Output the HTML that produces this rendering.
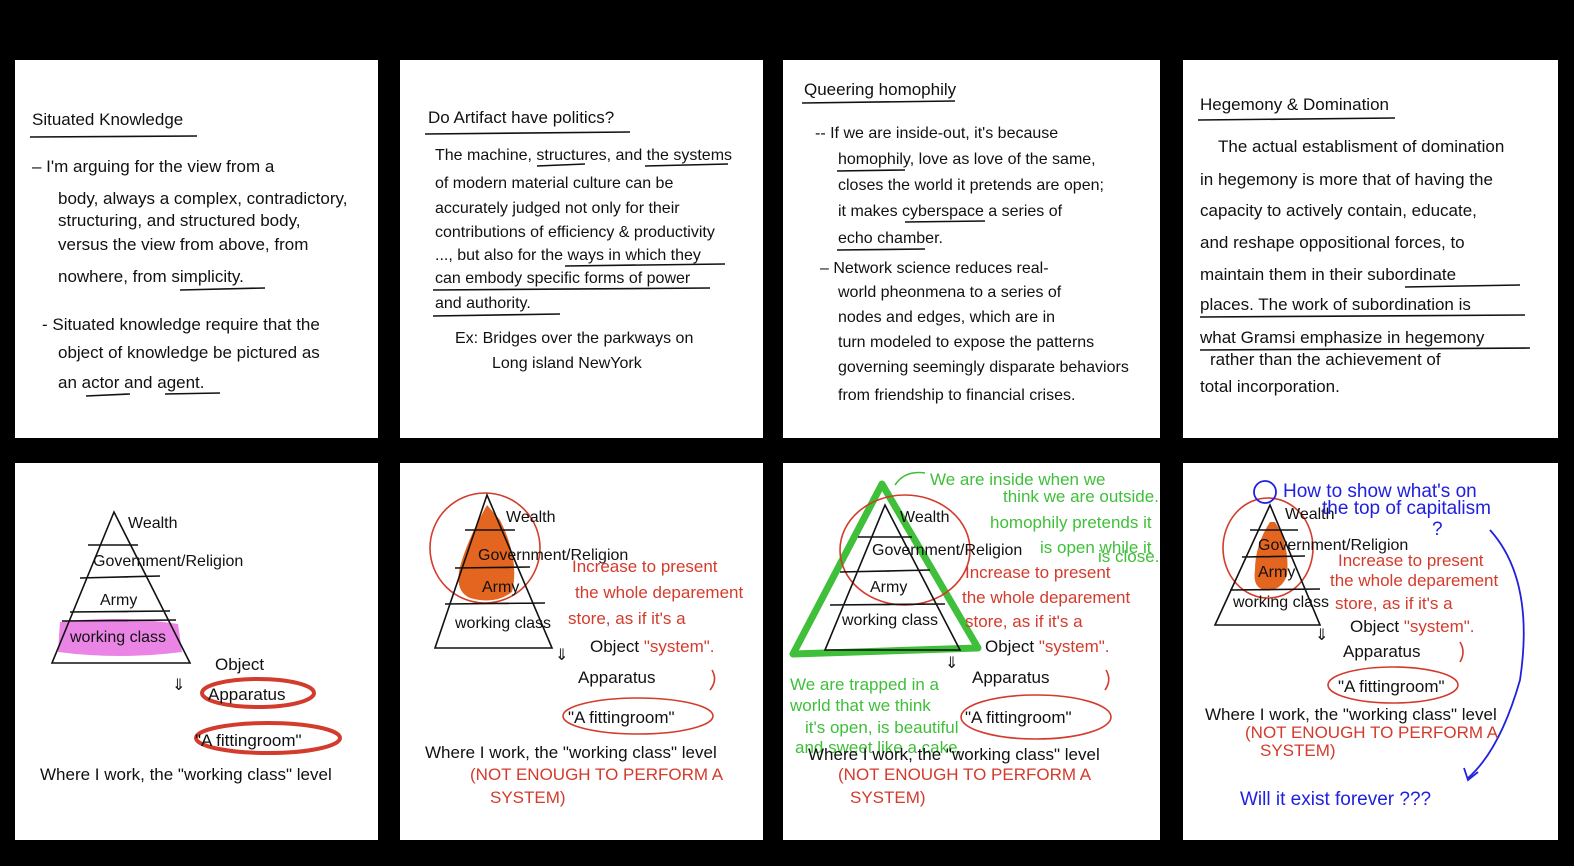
<!DOCTYPE html>
<html><head><meta charset="utf-8"><style>
html,body{margin:0;padding:0;background:#000;}
svg{display:block}
text{font-family:"Liberation Sans",sans-serif;}
.k{fill:#111;font-size:17px}
.t{fill:#111;font-size:16px}
.r{fill:#d33b2c;font-size:17px}
.g{fill:#3fbf3a;font-size:17px}
.b{fill:#2020e0;font-size:19px}
.u{stroke:#111;stroke-width:1.6;fill:none}
</style></head><body>
<svg width="1574" height="866" viewBox="0 0 1574 866" xmlns="http://www.w3.org/2000/svg">
<rect width="1574" height="866" fill="#000"/>
<rect x="15" y="60" width="363" height="378" fill="#fff"/>
<rect x="400" y="60" width="363" height="378" fill="#fff"/>
<rect x="783" y="60" width="377" height="378" fill="#fff"/>
<rect x="1183" y="60" width="375" height="378" fill="#fff"/>
<rect x="15" y="463" width="363" height="377" fill="#fff"/>
<rect x="400" y="463" width="363" height="377" fill="#fff"/>
<rect x="783" y="463" width="377" height="377" fill="#fff"/>
<rect x="1183" y="463" width="375" height="377" fill="#fff"/>

<!-- Panel 1 -->
<text class="k" x="32" y="125">Situated Knowledge</text>
<path class="u" d="M30 137 L197 136"/>
<text class="k" x="32" y="172">–  I'm arguing for the view from a</text>
<text class="k" x="58" y="204">body, always a complex, contradictory,</text>
<text class="k" x="58" y="226">structuring, and structured body,</text>
<text class="k" x="58" y="250">versus the view from above, from</text>
<text class="k" x="58" y="282">nowhere, from simplicity.</text>
<path class="u" d="M180 290 L265 288"/>
<text class="k" x="42" y="330">- Situated knowledge require that the</text>
<text class="k" x="58" y="358">object of knowledge be pictured as</text>
<text class="k" x="58" y="388">an actor and agent.</text>
<path class="u" d="M86 396 L130 394 M165 394 L220 393"/>

<!-- Panel 2 -->
<text class="k" x="428" y="123">Do Artifact have politics?</text>
<path class="u" d="M425 134 L630 132"/>
<text class="t" x="435" y="160">The machine, structures, and the systems</text>
<path class="u" d="M537 166 L585 164 M645 166 L728 164"/>
<text class="t" x="435" y="188">of modern material culture can be</text>
<text class="t" x="435" y="213">accurately judged not only for their</text>
<text class="t" x="435" y="237">contributions of efficiency &amp; productivity</text>
<text class="t" x="435" y="260">..., but also for the ways in which they</text>
<path class="u" d="M565 266 L725 264"/>
<text class="t" x="435" y="283">can embody specific forms of power</text>
<path class="u" d="M433 290 L710 288"/>
<text class="t" x="435" y="308">and authority.</text>
<path class="u" d="M433 316 L560 314"/>
<text class="t" x="455" y="343">Ex: Bridges over the parkways on</text>
<text class="t" x="492" y="368">Long island NewYork</text>

<!-- Panel 3 -->
<text class="k" x="804" y="95">Queering homophily</text>
<path class="u" d="M802 103 L955 101"/>
<text class="t" x="815" y="138">-- If we are inside-out, it's because</text>
<text class="t" x="838" y="164">homophily, love as love of the same,</text>
<path class="u" d="M837 171 L905 170"/>
<text class="t" x="838" y="190">closes the world it pretends are open;</text>
<text class="t" x="838" y="216">it makes cyberspace a series of</text>
<path class="u" d="M905 222 L985 221"/>
<text class="t" x="838" y="243">echo chamber.</text>
<path class="u" d="M837 250 L925 249"/>
<text class="t" x="820" y="273">– Network science reduces real-</text>
<text class="t" x="838" y="297">world pheonmena to a series of</text>
<text class="t" x="838" y="322">nodes and edges, which are in</text>
<text class="t" x="838" y="347">turn modeled to expose the patterns</text>
<text class="t" x="838" y="372">governing seemingly disparate behaviors</text>
<text class="t" x="838" y="400">from friendship to financial crises.</text>

<!-- Panel 4 -->
<text class="k" x="1200" y="110">Hegemony &amp; Domination</text>
<path class="u" d="M1198 120 L1395 118"/>
<text class="k" x="1218" y="152">The actual establisment of domination</text>
<text class="k" x="1200" y="185">in hegemony is more that of having the</text>
<text class="k" x="1200" y="216">capacity to actively contain, educate,</text>
<text class="k" x="1200" y="248">and reshape oppositional forces, to</text>
<text class="k" x="1200" y="280">maintain them in their subordinate</text>
<path class="u" d="M1405 287 L1520 285"/>
<text class="k" x="1200" y="310">places. The work of subordination is</text>
<path class="u" d="M1200 317 L1525 315"/>
<text class="k" x="1200" y="343">what Gramsi emphasize in hegemony</text>
<path class="u" d="M1200 350 L1530 348"/>
<text class="k" x="1210" y="365">rather than the achievement of</text>
<text class="k" x="1200" y="392">total incorporation.</text>

<!-- Panel 5 -->
<path d="M60 622 Q120 615 178 624 L182 652 Q120 660 58 652 Z" fill="#e870e0" opacity="0.85"/>
<path class="u" d="M114 512 L52 663 L190 663 Z M88 545 L138 545 M80 578 L160 576 M70 612 L170 611 M62 621 L176 620"/>
<text class="t" x="128" y="528">Wealth</text>
<text class="t" x="93" y="566">Government/Religion</text>
<text class="t" x="100" y="605">Army</text>
<text class="t" x="70" y="642" font-size="14">working class</text>
<text class="t" x="172" y="690">⇓</text>
<text class="k" x="215" y="670">Object</text>
<ellipse cx="258" cy="693" rx="56" ry="14" fill="none" stroke="#d33b2c" stroke-width="4"/>
<text class="k" x="208" y="700">Apparatus</text>
<ellipse cx="268" cy="738" rx="72" ry="15" fill="none" stroke="#d33b2c" stroke-width="4"/>
<text class="k" x="195" y="746">"A fittingroom"</text>
<text class="k" x="40" y="780">Where I work, the "working class" level</text>

<!-- Panel 6 -->
<ellipse cx="485" cy="548" rx="55" ry="55" fill="none" stroke="#d33b2c" stroke-width="1.6"/>
<path d="M487 505 Q470 535 462 560 Q452 590 470 598 Q495 605 512 592 Q520 560 500 520 Z" fill="#e4651f"/>
<path class="u" d="M487 495 L435 648 L552 648 Z M465 530 L515 530 M455 568 L530 567 M445 604 L545 603"/>
<text class="t" x="506" y="522">Wealth</text>
<text class="t" x="478" y="560" font-size="14">Government/Religion</text>
<text class="t" x="482" y="592">Army</text>
<text class="t" x="455" y="628" font-size="13">working class</text>
<text class="r" x="572" y="572">Increase to present</text>
<text class="r" x="575" y="598">the whole deparement</text>
<text class="r" x="568" y="624">store, as if it's a</text>
<text class="k" x="590" y="652">Object <tspan fill="#d33b2c">"system".</tspan></text>
<text class="t" x="555" y="660">⇓</text>
<text class="k" x="578" y="683">Apparatus</text>
<path d="M710 690 Q718 680 712 670" fill="none" stroke="#d33b2c" stroke-width="1.6"/>
<ellipse cx="638" cy="716" rx="75" ry="18" fill="none" stroke="#d33b2c" stroke-width="1.6"/>
<text class="k" x="568" y="723">"A fittingroom"</text>
<text class="k" x="425" y="758">Where I work, the "working class" level</text>
<text class="r" x="470" y="780" font-size="14">(NOT ENOUGH TO PERFORM A</text>
<text class="r" x="490" y="803" font-size="14">SYSTEM)</text>

<!-- Panel 7 -->
<path d="M882 484 L793 654 L978 648 Z" fill="none" stroke="#3fbf3a" stroke-width="7" stroke-linejoin="round"/>
<ellipse cx="905" cy="550" rx="65" ry="55" fill="none" stroke="#d33b2c" stroke-width="1.6"/>
<path class="u" d="M885 505 L825 650 L960 650 Z M858 537 L912 537 M840 572 L930 570 M830 605 L945 604"/>
<text class="t" x="900" y="522">Wealth</text>
<text class="t" x="872" y="555" font-size="14">Government/Religion</text>
<text class="t" x="870" y="592">Army</text>
<text class="t" x="842" y="625" font-size="14">working class</text>
<path d="M895 485 Q905 470 925 473" fill="none" stroke="#3fbf3a" stroke-width="1.6"/>
<text class="g" x="930" y="485">We are inside when we</text>
<text class="g" x="1003" y="502">think we are outside.</text>
<text class="g" x="990" y="528">homophily pretends it</text>
<text class="g" x="1040" y="553">is open while it</text>
<text class="g" x="1098" y="562">is close.</text>
<text class="r" x="965" y="578">Increase to present</text>
<text class="r" x="962" y="603">the whole deparement</text>
<text class="r" x="965" y="627">store, as if it's a</text>
<text class="k" x="985" y="652">Object <tspan fill="#d33b2c">"system".</tspan></text>
<text class="t" x="945" y="668">⇓</text>
<text class="k" x="972" y="683">Apparatus</text>
<path d="M1105 690 Q1112 680 1106 670" fill="none" stroke="#d33b2c" stroke-width="1.6"/>
<ellipse cx="1036" cy="717" rx="75" ry="22" fill="none" stroke="#d33b2c" stroke-width="1.6"/>
<text class="k" x="965" y="723">"A fittingroom"</text>
<text class="g" x="790" y="690">We are trapped in a</text>
<text class="g" x="790" y="711">world that we think</text>
<text class="g" x="805" y="733">it's open, is beautiful</text>
<text class="g" x="795" y="753">and sweet like a cake.</text>
<text class="k" x="808" y="760">Where I work, the "working class" level</text>
<text class="r" x="838" y="780" font-size="14">(NOT ENOUGH TO PERFORM A</text>
<text class="r" x="850" y="803" font-size="14">SYSTEM)</text>

<!-- Panel 8 -->
<ellipse cx="1268" cy="548" rx="45" ry="50" fill="none" stroke="#d33b2c" stroke-width="1.6"/>
<path d="M1270 522 Q1255 545 1255 570 Q1252 590 1268 590 Q1282 590 1287 575 Q1290 545 1275 522 Z" fill="#e4651f"/>
<path class="u" d="M1270 505 L1215 625 L1320 625 Z M1250 530 L1298 530 M1242 557 L1305 556 M1230 590 L1320 589"/>
<text class="t" x="1285" y="519" font-size="14">Wealth</text>
<text class="t" x="1258" y="550" font-size="13">Government/Religion</text>
<text class="t" x="1258" y="577" font-size="14">Army</text>
<text class="t" x="1233" y="607" font-size="12">working class</text>
<circle cx="1265" cy="492" r="11" fill="none" stroke="#2020e0" stroke-width="1.8"/>
<text class="b" x="1283" y="497">How to show what's on</text>
<text class="b" x="1322" y="514" font-size="16">the top of capitalism</text>
<text class="b" x="1432" y="535" font-size="16">?</text>
<path d="M1490 530 Q1535 580 1520 680 Q1500 750 1468 778" fill="none" stroke="#2020e0" stroke-width="1.8"/>
<path d="M1464 768 L1468 780 L1478 772" fill="none" stroke="#2020e0" stroke-width="1.8"/>
<text class="r" x="1338" y="566">Increase to present</text>
<text class="r" x="1330" y="586">the whole deparement</text>
<text class="r" x="1335" y="609">store, as if it's a</text>
<text class="k" x="1350" y="632">Object <tspan fill="#d33b2c">"system".</tspan></text>
<text class="t" x="1315" y="640">⇓</text>
<text class="k" x="1343" y="657">Apparatus</text>
<path d="M1460 662 Q1466 652 1460 642" fill="none" stroke="#d33b2c" stroke-width="1.6"/>
<ellipse cx="1393" cy="685" rx="65" ry="18" fill="none" stroke="#d33b2c" stroke-width="1.6"/>
<text class="k" x="1338" y="692">"A fittingroom"</text>
<text class="k" x="1205" y="720" font-size="15">Where I work, the "working class" level</text>
<text class="r" x="1245" y="738" font-size="13">(NOT ENOUGH TO PERFORM A</text>
<text class="r" x="1260" y="756" font-size="13">SYSTEM)</text>
<text class="b" x="1240" y="805" font-size="22">Will it exist forever ???</text>
</svg>
</body></html>
